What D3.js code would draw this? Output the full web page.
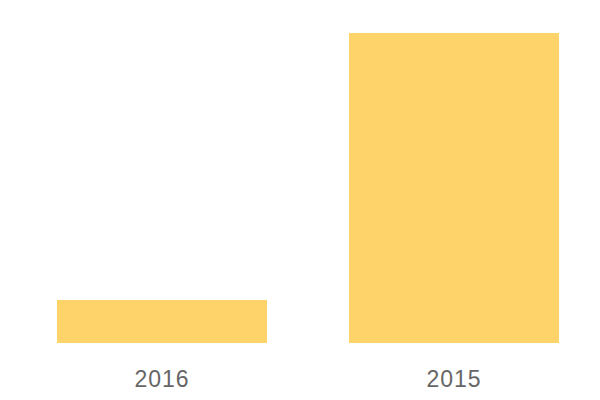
<!DOCTYPE html>
<html lang="en">
<head>
  <meta charset="UTF-8">
  <title>Bars by year</title>
  <script src="https://d3js.org/d3.v7.min.js"></script>
  <style>
    body { margin: 0; background: #fff; }
    svg { display: block; }
  </style>
</head>
<body>
  <svg id="chart" width="600" height="400"></svg>
<script>
  const years = ["2016", "2015"];
  const values = [5, 36];

  const svg = d3.select("#chart");
  const margin = { top: 33, right: 41, bottom: 57, left: 57 };
  const width = +svg.attr("width");
  const height = +svg.attr("height");

  const x = d3.scaleBand()
    .domain(years)
    .range([margin.left, width - margin.right])
    .paddingInner(82 / 292)
    .paddingOuter(0);

  const y = d3.scaleLinear()
    .domain([0, d3.max(values)])
    .range([height - margin.bottom, margin.top]);

  const data = years.map((year, i) => ({ year, value: values[i] }));

  svg.selectAll(".bar")
    .data(data)
    .enter()
    .append("rect")
    .attr("class", "bar")
    .attr("x", d => x(d.year))
    .attr("y", d => y(d.value))
    .attr("width", x.bandwidth())
    .attr("height", d => y(0) - y(d.value))
    .attr("fill", "#fed46a");

  // x axis labels only, no line or ticks
  const xAxis = svg.append("g")
    .attr("transform", `translate(0,${height - margin.bottom})`)
    .call(d3.axisBottom(x).tickSize(0).tickPadding(28));
  xAxis.select(".domain").remove();
  xAxis.selectAll("text")
    .attr("fill", "#666")
    .style("font-family", "'Liberation Sans', Arial, sans-serif")
    .style("font-size", "23px")
    .style("letter-spacing", "1px");
</script>
</body>
</html>
